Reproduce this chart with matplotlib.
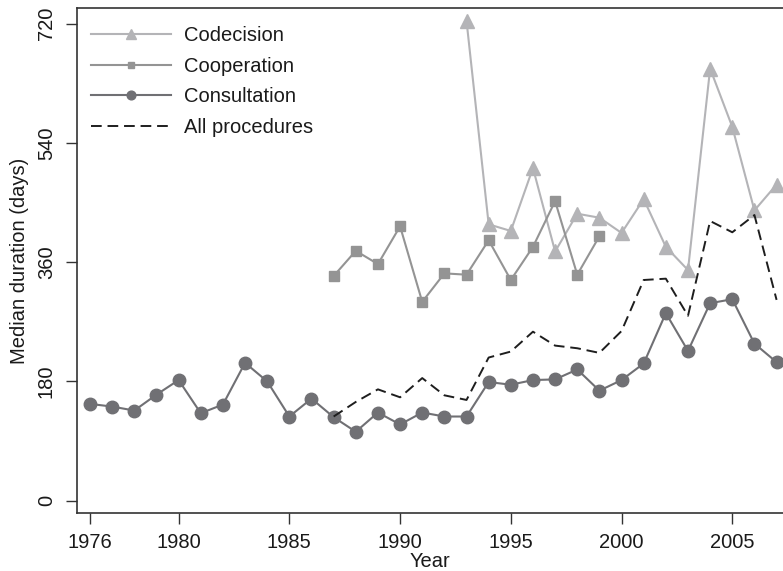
import matplotlib
matplotlib.use("Agg")
import matplotlib.pyplot as plt

plt.rcParams['font.family'] = ['Liberation Sans', 'DejaVu Sans']

# ---- data ----
years_consult = list(range(1976, 2008))
consultation = [146, 142, 136, 160, 182, 132, 145, 208, 180, 127, 154,
                126, 104, 133, 115, 133, 127, 127, 179, 175, 182, 183,
                198, 166, 182, 207, 283, 226, 298, 304, 237, 209]

years_coop = list(range(1987, 2000))
cooperation = [339, 377, 357, 414, 300, 343, 341, 393, 333, 383, 452, 341, 399]

years_codec = list(range(1993, 2008))
codecision = [724, 417, 407, 502, 376, 433, 427, 404, 455, 383, 348, 652, 564, 438, 477]

years_all = list(range(1987, 2008))
all_procedures = [127, 149, 168, 156, 185, 159, 152, 216, 225, 255, 234, 230,
                  223, 256, 333, 335, 279, 422, 405, 431, 303]

xticks = [1976, 1980, 1985, 1990, 1995, 2000, 2005]
yticks = [0, 180, 360, 540, 720]

# ---- styling ----
c_codec = '#b4b4b7'
c_coop = '#949494'
c_cons = '#707074'
c_all = '#1e1e1e'
fs = 14.5

fig = plt.figure(figsize=(7.83, 5.71), dpi=100)
ax = fig.add_axes([0.098, 0.1011, 0.902, 0.8844])

ax.plot(years_codec, codecision, color=c_codec, lw=1.5, marker='^', ms=9.5,
        mec=c_codec, mfc=c_codec, label='Codecision', zorder=3)
ax.plot(years_coop, cooperation, color=c_coop, lw=1.5, marker='s', ms=6.5,
        mec=c_coop, mfc=c_coop, label='Cooperation', zorder=3)
ax.plot(years_consult, consultation, color=c_cons, lw=1.5, marker='o', ms=9,
        mec=c_cons, mfc=c_cons, label='Consultation', zorder=4)
ax.plot(years_all, all_procedures, color=c_all, lw=1.4, ls=(0, (5.5, 3)),
        label='All procedures', zorder=5)

ax.set_xlim(1975.4, 2007.29)
ax.set_ylim(-19, 743)
ax.set_xticks(xticks)
ax.set_yticks(yticks)
ax.set_xticklabels([str(t) for t in xticks], fontsize=fs, color='#1a1a1a')
ax.set_yticklabels([str(t) for t in yticks], fontsize=fs, rotation=90,
                   va='center', color='#1a1a1a')

for s in ['left', 'bottom', 'top']:
    ax.spines[s].set_linewidth(1.2)
    ax.spines[s].set_color('#333333')
ax.spines['right'].set_visible(False)
ax.tick_params(axis='both', direction='out', length=8, width=1.0,
               color='#333333')
ax.tick_params(axis='x', pad=6)
ax.tick_params(axis='y', pad=7)

ax.set_xlabel('Year', fontsize=fs, color='#1a1a1a', labelpad=0)
ax.set_ylabel('Median duration (days)', fontsize=fs, color='#1a1a1a')
ax.yaxis.set_label_coords(-0.068, 0.5)

leg = ax.legend(loc='upper left', bbox_to_anchor=(0.0, 0.993), frameon=False,
                fontsize=fs, handlelength=4.0, handletextpad=0.65,
                labelspacing=0.58, numpoints=1, markerscale=0.7,
                borderaxespad=0.3)
for t in leg.get_texts():
    t.set_color('#1a1a1a')

fig.savefig('out.png', dpi=100)
